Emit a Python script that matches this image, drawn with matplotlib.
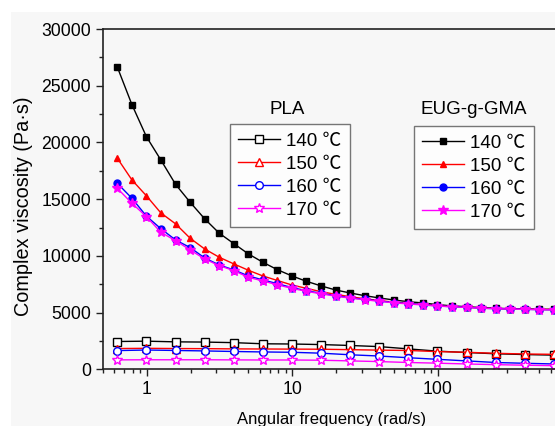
import matplotlib
matplotlib.use("Agg")
import matplotlib.pyplot as plt
from matplotlib.patches import Rectangle
from matplotlib.ticker import MultipleLocator, FixedLocator, FixedFormatter

plt.rcParams["font.family"] = ["Liberation Sans", "Noto Sans CJK SC"]

# --- data: complex viscosity vs angular frequency ---
freq_eug = [0.628, 0.791, 0.996, 1.25, 1.58, 1.99, 2.50, 3.15, 3.97, 5.00,
            6.28, 7.91, 9.96, 12.5, 15.8, 19.9, 25.0, 31.5, 39.7, 50.0,
            62.8, 79.1, 99.6, 125, 158, 199, 250, 315, 397, 500, 628]
freq_pla = [0.628, 0.996, 1.58, 2.50, 3.97, 6.28, 9.96, 15.8, 25.0, 39.7,
            62.8, 99.6, 158, 250, 397, 628]

temps = ["140", "150", "160", "170"]

eug_140 = [26650, 23340, 20500, 18460, 16300, 14720, 13270, 12000, 11080, 10170,
           9440, 8780, 8230, 7760, 7350, 6990, 6730, 6490, 6290, 6110,
           5960, 5850, 5700, 5590, 5520, 5440, 5380, 5350, 5320, 5290, 5290]
eug_150 = [18610, 16700, 15290, 13790, 12820, 11550, 10610, 9880, 9290, 8730,
           8230, 7830, 7430, 7140, 6840, 6610, 6400, 6220, 6060, 5920,
           5800, 5700, 5610, 5540, 5480, 5400, 5360, 5330, 5300, 5280, 5270]
eug_160 = [16400, 15080, 13500, 12400, 11400, 10730, 9820, 9200, 8760, 8230,
           7880, 7550, 7200, 6930, 6700, 6490, 6310, 6170, 6020, 5880,
           5790, 5700, 5590, 5520, 5470, 5390, 5350, 5320, 5290, 5260, 5250]
eug_170 = [15960, 14640, 13460, 12080, 11340, 10520, 9730, 9140, 8700, 8110,
           7790, 7450, 7130, 6880, 6650, 6450, 6270, 6130, 5990, 5860,
           5760, 5670, 5570, 5510, 5450, 5380, 5340, 5310, 5280, 5260, 5240]

pla_140 = [2450, 2480, 2420, 2400, 2350, 2250, 2230, 2180, 2100, 2000,
           1800, 1600, 1480, 1370, 1300, 1250]
pla_150 = [1830, 1850, 1830, 1820, 1800, 1790, 1780, 1770, 1730, 1690,
           1660, 1560, 1500, 1410, 1350, 1320]
pla_160 = [1650, 1700, 1660, 1620, 1570, 1530, 1500, 1420, 1280, 1170,
           1020, 880, 740, 600, 530, 470]
pla_170 = [830, 840, 840, 840, 830, 820, 820, 800, 740, 680,
           600, 540, 470, 410, 360, 320]

colors = ["black", "red", "blue", "magenta"]
markers = ["s", "^", "o", "*"]

W, H = 555, 426


def fx(px):
    return px / W


def fy(py):
    return 1 - py / H


fig = plt.figure(figsize=(W / 100, H / 100), dpi=100, facecolor="white")
fig.patches.append(Rectangle((fx(11), 0), 1, fy(12), transform=fig.transFigure,
                             facecolor="#f7f7f7", edgecolor="none", zorder=-10))

ax_left, ax_right, ax_top, ax_bottom = 102.9, 560.7, 29.0, 369.3
ax = fig.add_axes([fx(ax_left), fy(ax_bottom), fx(ax_right - ax_left),
                   (ax_bottom - ax_top) / H])
ax.set_facecolor("none")

pla_handles = []
for vals, c, m, t in zip([pla_140, pla_150, pla_160, pla_170], colors, markers, temps):
    h, = ax.plot(freq_pla, vals, color=c, lw=1.0, marker=m,
                 ms=7 if m == "*" else 5.5, mfc="white", mec=c, mew=1.0,
                 label=f"{t} ℃")
    pla_handles.append(h)

eug_handles = []
for vals, c, m, t in zip([eug_140, eug_150, eug_160, eug_170], colors, markers, temps):
    h, = ax.plot(freq_eug, vals, color=c, lw=1.0, marker=m,
                 ms=7 if m == "*" else 5, mfc=c, mec=c,
                 label=f"{t} ℃")
    eug_handles.append(h)

ax.set_xscale("log")
ax.set_xlim(0.5, 700)
ax.set_ylim(0, 30000)
ax.yaxis.set_major_locator(MultipleLocator(5000))
ax.yaxis.set_minor_locator(MultipleLocator(2500))
ax.xaxis.set_major_locator(FixedLocator([1, 10, 100]))
ax.xaxis.set_major_formatter(FixedFormatter(["1", "10", "100"]))

for side in ["left", "bottom", "top"]:
    ax.spines[side].set_linewidth(1.2)
    ax.spines[side].set_color("#222222")
ax.spines["right"].set_visible(False)
ax.tick_params(which="both", direction="out", top=False, right=False,
               colors="#222222", labelcolor="black", labelsize=12.7, width=1.0)
ax.tick_params(which="major", length=5)
ax.tick_params(which="minor", length=3)

ax.set_xlabel("Angular frequency (rad/s)", fontsize=12, labelpad=10)
ax.set_ylabel("Complex viscosity (Pa·s)", fontsize=14.3)
# label anchor sits on the right edge of the rotated text
ax.yaxis.set_label_coords((33 - ax_left) / (ax_right - ax_left),
                          (ax_bottom - 206.5) / (ax_bottom - ax_top))

# two legends with their group names above them
leg_kw = dict(loc="upper left", fontsize=13.5, frameon=True, fancybox=False,
              numpoints=1, handlelength=2.2, handletextpad=0.35,
              labelspacing=0.32, borderpad=0.45, borderaxespad=0,
              bbox_transform=fig.transFigure)
leg1 = ax.legend(handles=pla_handles, bbox_to_anchor=(fx(230), fy(124)), **leg_kw)
leg1.get_frame().set_edgecolor("#555555")
leg1.get_frame().set_linewidth(1.0)
leg1.get_frame().set_facecolor("white")
ax.add_artist(leg1)
leg2 = ax.legend(handles=eug_handles, bbox_to_anchor=(fx(414), fy(126)), **leg_kw)
leg2.get_frame().set_edgecolor("#555555")
leg2.get_frame().set_linewidth(1.0)
leg2.get_frame().set_facecolor("white")

fig.text(fx(287.5), fy(113.5), "PLA", fontsize=13.5, ha="center", va="baseline")
fig.text(fx(474), fy(113.5), "EUG-g-GMA", fontsize=13.5, ha="center", va="baseline")

fig.savefig("out.png", dpi=100, facecolor=fig.get_facecolor())
